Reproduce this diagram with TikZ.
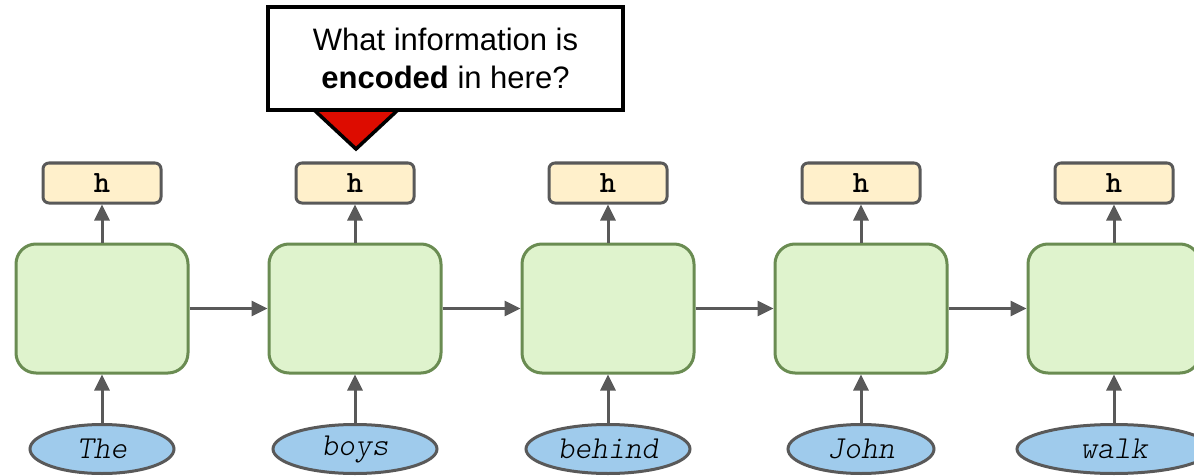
\documentclass[tikz,border=0pt]{standalone}
\usepackage{fontspec}
\setmainfont{Liberation Sans}
\newfontfamily\wordfont{lmmonolt10-oblique.otf}
\newfontfamily\statefont{lmmonolt10-bold.otf}
\usetikzlibrary{arrows.meta,shapes.geometric}
\definecolor{cellfill}{HTML}{DFF3CD}
\definecolor{celldraw}{HTML}{6A8C52}
\definecolor{hfill}{HTML}{FFF0CB}
\definecolor{gline}{HTML}{595959}
\definecolor{wordfill}{HTML}{9FCBEC}
\definecolor{callred}{HTML}{DD0C00}
\tikzset{
  cell/.style={draw=celldraw, fill=cellfill, line width=3pt, rounded corners=20pt,
    minimum width=172pt, minimum height=129pt, inner sep=0pt},
  hbox/.style={draw=gline, fill=hfill, line width=3pt, rounded corners=6pt,
    minimum width=118pt, minimum height=40pt, inner sep=0pt,
    font=\fontsize{31}{31}\selectfont\statefont},
  word/.style={ellipse, draw=gline, fill=wordfill, line width=3pt, inner sep=0pt,
    minimum height=49pt, font=\fontsize{32}{32}\selectfont\wordfont},
  flow/.style={draw=gline, line width=3pt, -{Triangle[length=16pt,width=15pt]}},
  callout/.style={draw=black, fill=white, line width=3.5pt,
    minimum width=355pt, minimum height=103pt, inner sep=0pt, align=center,
    font=\fontsize{31}{38}\selectfont},
}
\begin{document}
\begin{tikzpicture}[x=1pt,y=-1pt]
\useasboundingbox (0,0) rectangle (1194,476);
\clip (0,0) rectangle (1194,476);

% recurrent cells, hidden states and input words
\foreach \i/\cx/\w/\ww in {1/102/The/144, 2/355/boys/164, 3/608/behind/164, 4/861/John/146, 5/1114/walk/194}{
  \node[cell] (c\i) at (\cx,308.5) {};
  \node[hbox] (h\i) at (\cx,183) {h};
  \node[word, minimum width=\ww pt] (w\i) at (\cx,449) {\w};
  \draw[flow] (c\i.north) -- (h\i.south);
  \draw[flow] (w\i.north) -- (c\i.south);
}
\foreach \a/\b in {1/2,2/3,3/4,4/5}{
  \draw[flow] (c\a.east) -- (c\b.west);
}

% speech bubble pointing at the second hidden state
\coordinate (tl) at (312,108);
\coordinate (tr) at (400,108);
\coordinate (tip) at (356,149);
\draw[fill=callred, line width=3.5pt, line join=miter] (tl) -- (tip) -- (tr) -- cycle;
\node[callout] (q) at (445.5,58.5) {What information is\\\textbf{encoded} in here?};
\end{tikzpicture}
\end{document}
